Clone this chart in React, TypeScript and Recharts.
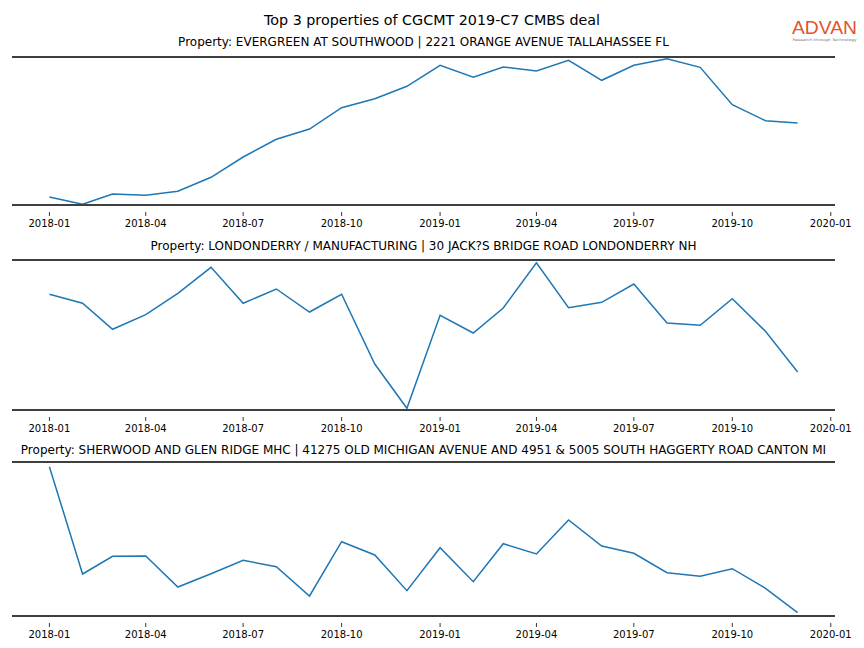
import React from "react";
import { LineChart, Line, XAxis, YAxis, ReferenceLine } from "recharts";

const months: string[] = [
  "2018-01", "2018-02", "2018-03", "2018-04", "2018-05", "2018-06",
  "2018-07", "2018-08", "2018-09", "2018-10", "2018-11", "2018-12",
  "2019-01", "2019-02", "2019-03", "2019-04", "2019-05", "2019-06",
  "2019-07", "2019-08", "2019-09", "2019-10", "2019-11", "2019-12",
];

const tickLabels: string[] = [
  "2018-01", "2018-04", "2018-07", "2018-10",
  "2019-01", "2019-04", "2019-07", "2019-10", "2020-01",
];

const titles: string[] = [
  "Property: EVERGREEN AT SOUTHWOOD | 2221 ORANGE AVENUE TALLAHASSEE FL",
  "Property: LONDONDERRY / MANUFACTURING | 30 JACK?S BRIDGE ROAD LONDONDERRY NH",
  "Property: SHERWOOD AND GLEN RIDGE MHC | 41275 OLD MICHIGAN AVENUE AND 4951 & 5005 SOUTH HAGGERTY ROAD CANTON MI",
];

const evergreen: number[] = [
  8, 0.7, 11, 9.7, 13.7, 27.7, 48, 65.7, 76, 97.3, 106.3, 118.7,
  139.7, 127.7, 138, 134, 144.7, 124.7, 139.7, 146.3, 137.7, 100.3, 84.3, 82,
];

const londonderry: number[] = [
  115.7, 106.7, 80.7, 95.3, 116.7, 142.7, 106.7, 121, 98, 115.7, 46, 1.7,
  94.7, 77, 102, 147.3, 102.3, 107.7, 126, 87, 84.7, 111.3, 78.7, 38,
];

const sherwood: number[] = [
  149.3, 42, 59.7, 60, 29, 42.3, 55.7, 49.3, 20, 74.3, 61, 25.3,
  68.3, 34.3, 72.3, 62, 96, 70, 62.7, 43.3, 39.7, 47.3, 27.7, 3.3,
];

const yLimits: number[][] = [
  [0, 148],
  [0, 150],
  [0, 154],
];

const toTs = (s: string) => {
  const [y, m] = s.split("-").map(Number);
  return Date.UTC(y, m - 1, 1);
};

const series = [evergreen, londonderry, sherwood];
const panelTops = [57, 260, 462];

const xs = months.map(toTs);
const xMin = xs[0];
const xMax = xs[xs.length - 1];
const pad = (xMax - xMin) * 0.05;
const xDomain = [xMin - pad, xMax + pad];
const tickValues = tickLabels.map(toTs);

const fmt = (v: number) => {
  const d = new Date(v);
  const m = d.getUTCMonth() + 1;
  return `${d.getUTCFullYear()}-${m < 10 ? "0" + m : m}`;
};

const FONT = "DejaVu Sans";
const SPINE = "#3f3f3f";

const Tick = (props: any) => {
  const { x, y, payload } = props;
  return (
    <g>
      <line x1={x} x2={x} y1={y + 7} y2={y + 11} stroke="#000" strokeWidth={0.8} />
      <text x={x} y={y + 22} textAnchor="middle" fontSize={10} fontFamily={FONT} fill="#000">
        {fmt(payload.value)}
      </text>
    </g>
  );
};

const Panel = ({ idx }: { idx: number }) => {
  const values = series[idx];
  const [lo, hi] = yLimits[idx];
  const data = months.map((m, i) => ({ t: xs[i], v: values[i] }));
  const H = hi - lo;
  const topM = 2;
  const axisH = 32;
  return (
    <div style={{ position: "absolute", left: 0, top: panelTops[idx] - topM }}>
      <LineChart
        width={864}
        height={topM + H + axisH}
        data={data}
        margin={{ top: topM, right: 29, left: 12, bottom: 0 }}
      >
        <XAxis
          dataKey="t"
          type="number"
          scale="linear"
          domain={xDomain}
          ticks={tickValues}
          allowDataOverflow
          height={axisH}
          tickLine={false}
          tickSize={0}
          tickMargin={0}
          axisLine={{ stroke: SPINE, strokeWidth: 2 }}
          tick={<Tick />}
          interval={0}
        />
        <YAxis hide domain={[lo, hi]} allowDataOverflow width={0} />
        <ReferenceLine y={hi} stroke={SPINE} strokeWidth={2} ifOverflow="visible" />
        <Line
          dataKey="v"
          type="linear"
          stroke="#1f77b4"
          strokeWidth={1.5}
          dot={false}
          isAnimationActive={false}
        />
      </LineChart>
    </div>
  );
};

export default function App() {
  const subY = [45.5, 249.5, 453.5];
  return (
    <div
      style={{
        position: "absolute",
        left: 0,
        top: 0,
        width: 864,
        height: 648,
        background: "#fff",
        overflow: "hidden",
      }}
    >
      <Panel idx={0} />
      <Panel idx={1} />
      <Panel idx={2} />
      <svg
        width={864}
        height={648}
        style={{ position: "absolute", left: 0, top: 0, pointerEvents: "none" }}
      >
        <text x={432} y={24.5} textAnchor="middle" fontSize={14.3} fontFamily={FONT} fill="#000">
          Top 3 properties of CGCMT 2019-C7 CMBS deal
        </text>
        {titles.map((t, i) => (
          <text
            key={i}
            x={423.5}
            y={subY[i]}
            textAnchor="middle"
            fontSize={12}
            fontFamily={FONT}
            fill="#000"
          >
            {t}
          </text>
        ))}
        <text
          x={824.5}
          y={34}
          textAnchor="middle"
          fontSize={18}
          fontFamily="Liberation Sans"
          fill="#e4532a"
          textLength={65}
          lengthAdjust="spacingAndGlyphs"
        >
          ADVAN
        </text>
        <text
          x={824.5}
          y={41}
          textAnchor="middle"
          fontSize={3.5}
          fontFamily={FONT}
          fill="#777"
          textLength={64}
          lengthAdjust="spacingAndGlyphs"
        >
          Research through Technology
        </text>
      </svg>
    </div>
  );
}
